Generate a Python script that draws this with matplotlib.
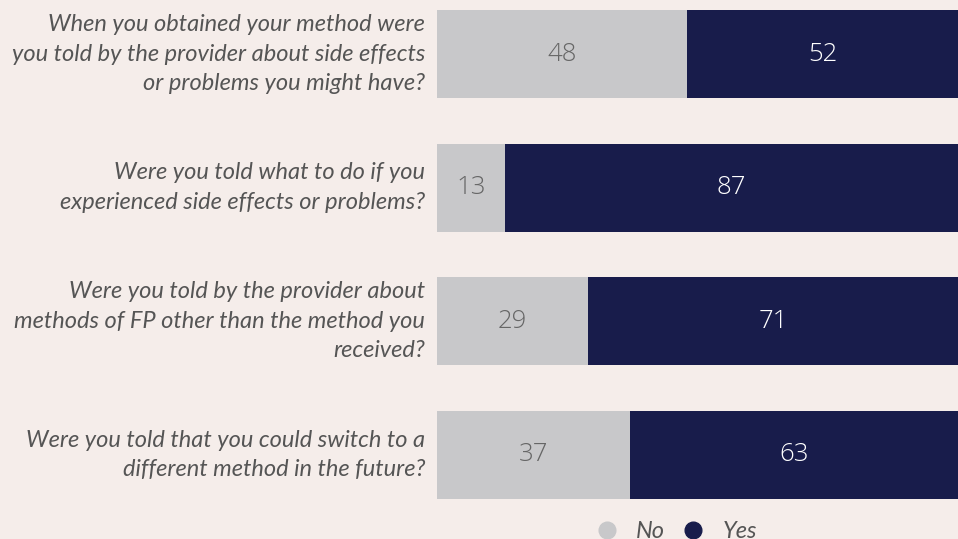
import numpy as np
import matplotlib.pyplot as plt
from matplotlib.lines import Line2D

questions = [
    "When you obtained your method were\nyou told by the provider about side effects\nor problems you might have?",
    "Were you told what to do if you\nexperienced side effects or problems?",
    "Were you told by the provider about\nmethods of FP other than the method you\nreceived?",
    "Were you told that you could switch to a\ndifferent method in the future?",
]
no_vals = [48, 13, 29, 37]
yes_vals = [52, 87, 71, 63]

bg = '#F5EDEA'
gray = '#C8C8CA'
navy = '#181C4B'
txt = '#555555'

fig = plt.figure(figsize=(9.58, 5.39), dpi=100, facecolor=bg)
W, H = 958, 539
ax = fig.add_axes([437 / W, 1 - 499 / H, 1 - 437 / W, (499 - 10) / H])
ax.set_facecolor(bg)

y = np.arange(len(questions))
bh = 0.66
ax.barh(y, no_vals, height=bh, color=gray)
ax.barh(y, yes_vals, left=no_vals, height=bh, color=navy)

for i in range(len(y)):
    ax.text(no_vals[i] / 2, y[i], str(no_vals[i]), ha='center', va='center',
            fontsize=18.5, color='#666666', family='Open Sans', fontweight='light')
    ax.text(no_vals[i] + yes_vals[i] / 2, y[i], str(yes_vals[i]), ha='center', va='center',
            fontsize=18.5, color='white', family='Open Sans', fontweight='light')
    ax.text(-2.3, y[i], questions[i], ha='right', va='center', fontsize=17,
            style='italic', color=txt, family='Lato', linespacing=1.5,
            clip_on=False)

ax.set_xlim(0, 100)
ax.set_ylim(len(questions) - 1 + bh / 2, -bh / 2)
ax.axis('off')

# legend sits partly below the bottom edge, as in the original
handles = [Line2D([], [], marker='o', ls='', color=gray, markersize=12),
           Line2D([], [], marker='o', ls='', color=navy, markersize=12)]
leg = fig.legend(handles, ['No', 'Yes'], loc='center', bbox_to_anchor=(670 / W, 1 - 532 / H),
                 ncol=2, frameon=False, handletextpad=0.23, columnspacing=0.2,
                 prop={'family': 'Lato', 'style': 'italic', 'size': 17})
for t in leg.get_texts():
    t.set_color(txt)

plt.savefig('out.png', dpi=100, facecolor=bg)
